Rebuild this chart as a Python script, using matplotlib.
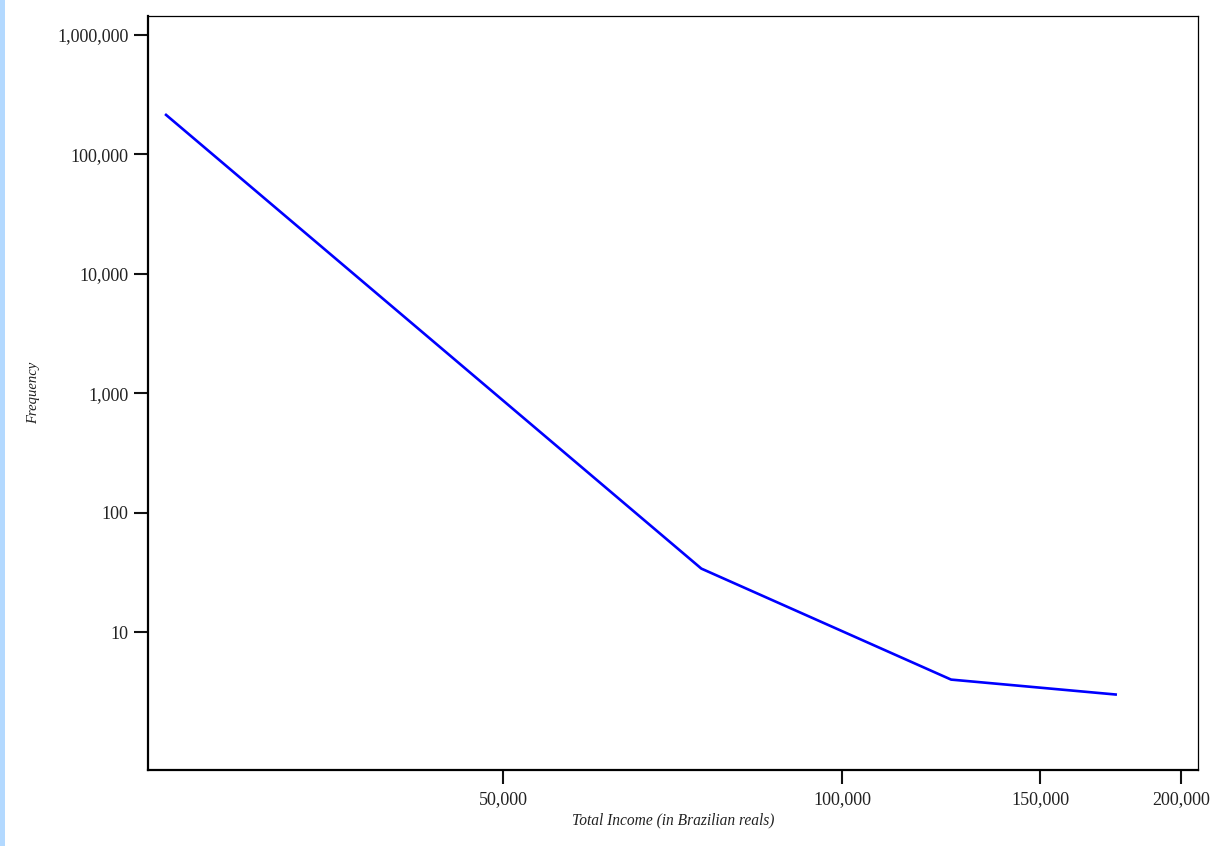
import matplotlib
matplotlib.use("Agg")
import matplotlib.pyplot as plt
import matplotlib.patches as patches
from matplotlib.ticker import FixedLocator, FuncFormatter, NullLocator

# income bin centres (reals) and counts per bin
income = [25100, 75000, 125000, 175000]
frequency = [214000, 34, 4, 3]

x_ticks = [50000, 100000, 150000, 200000]
y_ticks = [10, 100, 1000, 10000, 100000, 1000000]

plt.rcParams['font.family'] = ['Liberation Serif', 'DejaVu Serif']

fig = plt.figure(figsize=(12.13, 8.46), dpi=100)
fig.patch.set_facecolor('#ffffff')
# thin light-blue strip on the left edge
fig.patches.append(patches.Rectangle((0, 0), 5 / 1213, 1, transform=fig.transFigure,
                                     facecolor='#b3d9ff', edgecolor='none'))

ax = fig.add_axes([148 / 1213, 1 - 770 / 846, (1198 - 148) / 1213, (770 - 16) / 846])
ax.plot(income, frequency, color='#0000ff', linewidth=1.9)

ax.set_xscale('log')
ax.set_yscale('log')
ax.set_xlim(24190, 207100)
ax.set_ylim(0.7, 1440000)

fmt = FuncFormatter(lambda v, p: f"{int(round(v)):,}")
ax.xaxis.set_major_locator(FixedLocator(x_ticks))
ax.yaxis.set_major_locator(FixedLocator(y_ticks))
ax.xaxis.set_minor_locator(NullLocator())
ax.yaxis.set_minor_locator(NullLocator())
ax.xaxis.set_major_formatter(fmt)
ax.yaxis.set_major_formatter(fmt)

ax.tick_params(axis='both', which='major', length=10, width=1.5, pad=4,
               labelsize=13, labelcolor='#222222', color='#111111')
ax.tick_params(axis='x', pad=5.5)

ax.spines['left'].set_linewidth(1.6)
ax.spines['bottom'].set_linewidth(1.6)
ax.spines['top'].set_linewidth(0.9)
ax.spines['right'].set_linewidth(0.9)

ax.set_xlabel('Total Income (in Brazilian reals)', fontsize=11.2, style='italic',
              color='#222222', labelpad=3)
ax.set_ylabel('Frequency', fontsize=10.5, style='italic', color='#222222')
ax.yaxis.set_label_coords(-0.103, 0.5)

fig.savefig("out.png", dpi=100)
